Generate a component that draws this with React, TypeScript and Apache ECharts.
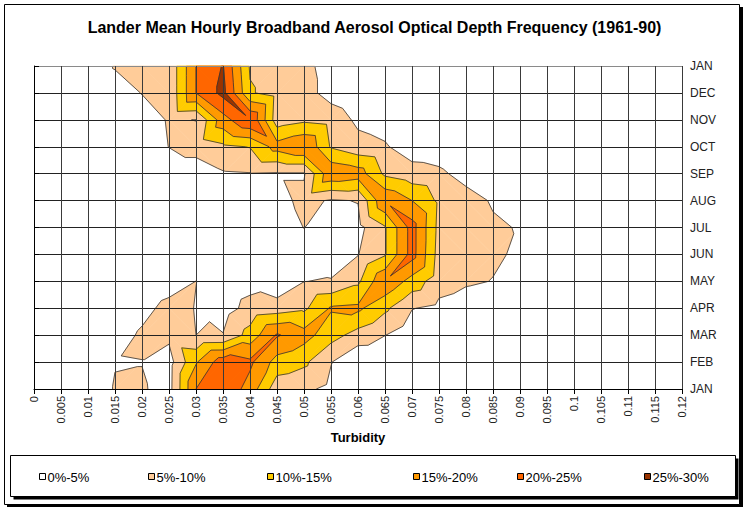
import React, { useEffect, useRef } from 'react';
import * as echarts from 'echarts';

const turbidityTicks = ['0', '0.005', '0.01', '0.015', '0.02', '0.025', '0.03', '0.035', '0.04', '0.045', '0.05', '0.055', '0.06', '0.065', '0.07', '0.075', '0.08', '0.085', '0.09', '0.095', '0.1', '0.105', '0.11', '0.115', '0.12'];
const monthTicks = ['JAN', 'FEB', 'MAR', 'APR', 'MAY', 'JUN', 'JUL', 'AUG', 'SEP', 'OCT', 'NOV', 'DEC', 'JAN'];
const bandNames = ['0%-5%', '5%-10%', '10%-15%', '15%-20%', '20%-25%', '25%-30%'];
const bandColors = ['#FFFFFF', '#FFCC99', '#FFCC00', '#FF9900', '#FF6600', '#993300'];
const bandLevels = [0, 5, 10, 15, 20, 25];

// frequency (%) at each turbidity tick, one row per month gridline (bottom JAN -> top JAN)
const freqJan = [0, 0, 0, 5.5, 5.5, 3.2, 20, 24, 18, 7, 6, 3.8, 0, 0, 0, 0, 0, 0, 0, 0, 0, 0, 0, 0, 0];
const freqFeb = [0, 0, 0, 4.7, 4.9, 3, 14.5, 23, 21, 13, 11, 5.2, 0.3, 0, 0, 0, 0, 0, 0, 0, 0, 0, 0, 0, 0];
const freqMar = [0, 0, 0, 2, 6, 6, 5, 5.2, 12, 20.5, 17, 12, 8, 5.1, 2, 0, 0, 0, 0, 0, 0, 0, 0, 0, 0];
const freqApr = [0, 0, 0, 0, 3, 7, 4.8, 3, 6.5, 7.5, 9, 15.5, 16, 11, 5.2, 3.8, 1, 0, 0, 0, 0, 0, 0, 0, 0];
const freqMay = [0, 0, 0, 0, 0, 2, 5.05, 2, 3.4, 1, 4.9, 5.5, 9, 19.5, 13, 7, 6, 4.8, 2, 0, 0, 0, 0, 0, 0];
const freqJun = [0, 0, 0, 0, 0, 0, 0, 0, 0, 0.5, 2, 1, 4.8, 9.5, 22, 8, 7, 6, 4, 0, 0, 0, 0, 0, 0];
const freqJul = [0, 0, 0, 0, 0, 0, 0, 0, 0, 2, 5.1, 2, 3.5, 9.5, 22, 8.5, 7, 5.7, 4.7, 0, 0, 0, 0, 0, 0];
const freqAug = [0, 0, 0, 0, 0, 0, 0, 0, 1, 3, 6.5, 4.5, 5.2, 19.5, 15, 9, 7, 4.5, 0, 0, 0, 0, 0, 0, 0];
const freqSep = [0, 0, 0, 0, 0, 2, 2, 4.5, 4.8, 4.5, 4.5, 19, 17.5, 9, 7, 6, 3.2, 0, 0, 0, 0, 0, 0, 0, 0];
const freqOct = [0, 0, 0, 0, 1, 5.1, 7, 9, 10.2, 17, 20, 9.5, 6.7, 5.5, 2.5, 2.2, 0, 0, 0, 0, 0, 0, 0, 0, 0];
const freqNov = [0, 0, 0, 0, 2, 5.5, 4.9, 18, 24.7, 7.3, 9, 8, 4, 3, 0, 0, 0, 0, 0, 0, 0, 0, 0, 0, 0];
const freqDec = [0, 0, 0, 2, 5.2, 6, 20, 26.5, 10.5, 8, 7, 3, 1, 0, 0, 0, 0, 0, 0, 0, 0, 0, 0, 0, 0];
const freqJanEnd = [0, 0, 0, 5.5, 6, 6, 20, 25.3, 9.5, 8, 7, 2, 0, 0, 0, 0, 0, 0, 0, 0, 0, 0, 0, 0, 0];

const freqRows = [freqJan, freqFeb, freqMar, freqApr, freqMay, freqJun, freqJul, freqAug, freqSep, freqOct, freqNov, freqDec, freqJanEnd];

const STEP = 0.005;
const FONT = 'Arial, "Liberation Sans", sans-serif';

function cellTriangles(c: number, r: number): number[][] {
  const v00 = freqRows[r][c];
  const v10 = freqRows[r][c + 1];
  const v11 = freqRows[r + 1][c + 1];
  const v01 = freqRows[r + 1][c];
  if (v00 + v11 >= v10 + v01) return [[0, 1, 2], [0, 2, 3]];
  return [[0, 1, 3], [1, 2, 3]];
}

function clipTri(pts: number[][], vals: number[], L: number) {
  const poly: number[][] = [];
  const seg: number[][] = [];
  const n = pts.length;
  for (let i = 0; i < n; i++) {
    const j = (i + 1) % n;
    const a = vals[i] - L;
    const b = vals[j] - L;
    if (a >= 0) poly.push(pts[i]);
    if ((a >= 0) !== (b >= 0)) {
      const t = a / (a - b);
      const p = [pts[i][0] + t * (pts[j][0] - pts[i][0]), pts[i][1] + t * (pts[j][1] - pts[i][1])];
      poly.push(p);
      seg.push(p);
    }
  }
  return { poly, seg };
}

function cellGeometry(api: any) {
  const c = api.value(2) as number;
  const r = api.value(3) as number;
  const corners = [[c, r], [c + 1, r], [c + 1, r + 1], [c, r + 1]];
  const pts = corners.map(([cc, rr]) => api.coord([cc * STEP, rr]));
  const vals = corners.map(([cc, rr]) => freqRows[rr][cc]);
  return { c, r, pts, vals, tris: cellTriangles(c, r) };
}

const makeFill = (k: number) => (params: any, api: any) => {
  const { pts, vals, tris } = cellGeometry(api);
  const L = bandLevels[k];
  const children: any[] = [];
  for (const tri of tris) {
    const { poly } = clipTri(tri.map((i) => pts[i]), tri.map((i) => vals[i]), L);
    if (poly.length >= 3) {
      children.push({
        type: 'polygon',
        shape: { points: poly },
        style: { fill: bandColors[k], stroke: bandColors[k], lineWidth: 0.6 },
      });
    }
  }
  return { type: 'group', children };
};

const renderLines = (params: any, api: any) => {
  const { pts, vals, tris } = cellGeometry(api);
  const children: any[] = [];
  for (let k = 1; k < bandLevels.length; k++) {
    for (const tri of tris) {
      const { seg } = clipTri(tri.map((i) => pts[i]), tri.map((i) => vals[i]), bandLevels[k]);
      if (seg.length === 2) {
        children.push({
          type: 'line',
          shape: { x1: seg[0][0], y1: seg[0][1], x2: seg[1][0], y2: seg[1][1] },
          style: { stroke: '#333', lineWidth: 0.8 },
        });
      }
    }
  }
  return { type: 'group', children };
};

const cells: number[][] = [];
for (let r = 0; r < freqRows.length - 1; r++) {
  for (let c = 0; c < turbidityTicks.length - 1; c++) {
    cells.push([c * STEP, r, c, r]);
  }
}

const legendX = [39.5, 148.5, 267.5, 413.5, 517.5, 644.5];

export default function App() {
  const ref = useRef<HTMLDivElement>(null);
  useEffect(() => {
    if (!ref.current) return;
    const chart = echarts.init(ref.current, undefined, { renderer: 'svg' });

    const ySplitColors = monthTicks.map((_, i) => (i === monthTicks.length - 1 ? '#8a8a8a' : '#222'));
    const xSplitColors = turbidityTicks.map((_, i) => (i === 0 ? '#8a8a8a' : '#3a3a3a'));

    const graphics: any[] = [
      { type: 'rect', z: -5, shape: { x: 7, y: 7, width: 736, height: 500 }, style: { fill: '#000' } },
      { type: 'rect', z: -4, shape: { x: 4.5, y: 4.5, width: 735, height: 500 }, style: { fill: '#fff', stroke: '#000', lineWidth: 1 } },
      { type: 'rect', z: -3, shape: { x: 13.5, y: 458.5, width: 725, height: 41 }, style: { fill: '#000' } },
      { type: 'rect', z: -2, shape: { x: 10.5, y: 455.5, width: 725, height: 41 }, style: { fill: '#fff', stroke: '#000', lineWidth: 1 } },
    ];
    bandNames.forEach((name, i) => {
      graphics.push({
        type: 'rect',
        z: 1,
        shape: { x: legendX[i], y: 473.5, width: 6, height: 6 },
        style: { fill: bandColors[i], stroke: '#000', lineWidth: 1 },
      });
      graphics.push({
        type: 'text',
        z: 1,
        x: legendX[i] + 8,
        y: 477,
        style: { text: name, font: `13px ${FONT}`, fill: '#000', textAlign: 'left', textVerticalAlign: 'middle' },
      });
    });

    const series: any[] = [];
    for (let k = 1; k < bandLevels.length; k++) {
      series.push({
        type: 'custom',
        name: bandNames[k],
        renderItem: makeFill(k),
        data: cells,
        encode: { x: 0, y: 1 },
        silent: true,
        z: 2,
      });
    }
    series.push({
      type: 'custom',
      name: 'contours',
      renderItem: renderLines,
      data: cells,
      encode: { x: 0, y: 1 },
      silent: true,
      z: 3,
    });

    chart.setOption({
      animation: false,
      backgroundColor: '#fff',
      title: {
        text: 'Lander Mean Hourly Broadband Aerosol Optical Depth Frequency (1961-90)',
        left: 'center',
        top: 14,
        textStyle: { fontSize: 16, fontWeight: 'bold', color: '#000', fontFamily: FONT },
      },
      graphic: { elements: graphics },
      grid: { left: 34, top: 66, width: 648, height: 323, show: false },
      xAxis: {
        type: 'value',
        min: 0,
        max: 0.12,
        interval: STEP,
        z: 10,
        name: 'Turbidity',
        nameLocation: 'middle',
        nameGap: 38,
        nameTextStyle: { fontWeight: 'bold', fontSize: 13, color: '#000', fontFamily: FONT },
        axisLine: { show: true, lineStyle: { color: '#000', width: 1 } },
        axisTick: { show: true, length: 5, lineStyle: { color: '#000' } },
        axisLabel: {
          rotate: 90,
          margin: 7,
          fontSize: 11,
          color: '#222',
          fontFamily: FONT,
          formatter: (v: number) => turbidityTicks[Math.round(v / STEP)] ?? '',
        },
        splitLine: { show: true, lineStyle: { color: xSplitColors, width: 1 } },
      },
      yAxis: {
        type: 'value',
        min: 0,
        max: 12,
        interval: 1,
        position: 'right',
        z: 10,
        axisLine: { show: true, lineStyle: { color: '#000', width: 1 } },
        axisTick: { show: true, length: 5, lineStyle: { color: '#000' } },
        axisLabel: {
          margin: 8,
          fontSize: 12,
          color: '#222',
          fontFamily: FONT,
          formatter: (v: number) => monthTicks[Math.round(v)] ?? '',
        },
        splitLine: { show: true, lineStyle: { color: ySplitColors, width: 1 } },
      },
      series,
    });
    return () => chart.dispose();
  }, []);
  return <div ref={ref} style={{ position: 'absolute', left: 0, top: 0, width: 749, height: 512, background: '#fff' }} />;
}
